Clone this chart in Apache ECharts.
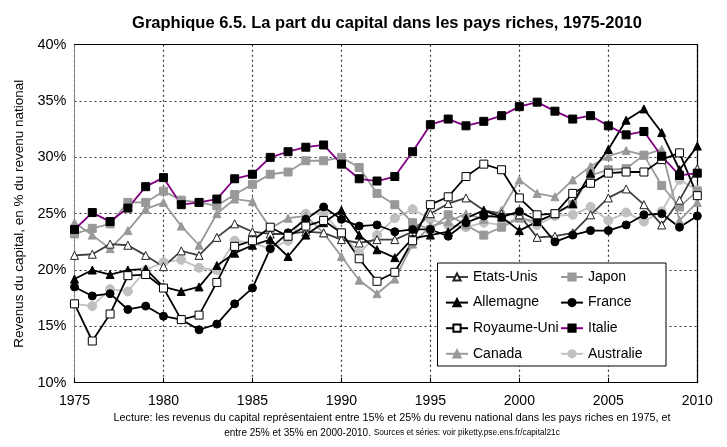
<!DOCTYPE html>
<html>
<head>
<meta charset="utf-8">
<script src="https://cdn.jsdelivr.net/npm/echarts@6/dist/echarts.min.js"></script>
<style>
html,body{margin:0;padding:0;background:#fff;}
#chart{width:727px;height:447px;}
</style>
</head>
<body>
<div id="chart"></div>
<script>
var years = [1975,1976,1977,1978,1979,1980,1981,1982,1983,1984,1985,1986,1987,1988,1989,1990,1991,1992,1993,1994,1995,1996,1997,1998,1999,2000,2001,2002,2003,2004,2005,2006,2007,2008,2009,2010];
var usa = [21.3,21.4,22.3,22.2,21.3,20.3,21.7,21.3,22.9,24.1,23.4,23.2,23.2,23.4,23.3,22.7,22.4,22.7,22.7,23.4,25.0,25.9,26.4,25.3,25.0,24.9,22.9,23.0,23.3,24.9,26.4,27.2,25.8,24.0,26.2,29.0];
var japan = [23.2,23.7,24.1,26.0,26.0,27.0,26.2,26.0,25.7,26.7,27.6,28.5,28.7,29.7,29.7,30.0,29.1,26.8,25.8,24.2,23.6,24.9,24.0,23.1,23.8,24.6,24.3,25.0,25.8,28.4,28.9,29.0,30.2,27.5,25.6,27.0];
var germany = [19.2,20.0,19.6,20.0,20.1,18.5,18.1,18.5,20.4,21.5,22.2,22.7,21.2,23.1,24.2,25.3,23.1,21.8,21.1,22.8,23.1,23.4,24.6,25.3,24.7,23.5,24.3,25.0,25.9,28.6,30.7,33.3,34.3,32.2,28.9,31.0];
var france = [18.5,17.7,17.9,16.5,16.8,15.9,15.6,14.7,15.2,17.0,18.4,21.9,23.3,24.5,25.6,24.5,23.9,24.0,23.4,23.6,23.6,23.0,24.2,24.8,24.7,25.2,24.4,22.5,23.1,23.5,23.5,24.0,24.9,25.0,23.8,24.8];
var uk = [17.0,13.7,16.1,19.5,19.6,18.4,15.6,16.0,18.9,22.1,22.6,23.8,23.0,23.9,24.4,23.3,21.0,19.0,19.8,22.6,25.8,26.5,28.3,29.4,28.9,26.4,24.9,25.0,26.8,27.7,28.6,28.7,28.7,29.8,30.4,26.6];
var italy = [23.6,25.1,24.3,25.5,27.4,28.2,25.8,26.0,26.3,28.1,28.5,30.0,30.5,30.9,31.1,29.4,28.1,27.9,28.3,30.5,32.9,33.4,32.8,33.2,33.7,34.5,34.9,34.1,33.4,33.7,32.8,32.0,32.3,30.1,28.4,28.6];
var canada = [24.2,23.1,21.9,23.5,25.4,26.0,23.9,22.2,25.0,26.3,26.1,23.7,24.6,24.8,23.3,21.2,19.1,17.9,19.2,22.3,23.9,24.3,25.0,24.5,25.3,28.0,26.8,26.5,28.0,29.2,30.1,30.6,30.2,30.7,24.4,26.0];
var australia = [17.0,16.8,18.3,18.1,20.0,20.7,20.9,20.2,20.0,22.6,22.4,21.9,22.6,25.0,25.0,23.3,21.5,23.1,24.6,25.4,24.5,24.0,23.8,24.2,24.0,24.7,24.0,24.8,24.9,25.6,24.4,25.1,24.3,25.2,28.0,27.1];
var xTicks = [1975,1980,1985,1990,1995,2000,2005,2010];

var FONT = "'Liberation Sans',Arial,sans-serif";
function pairs(v){ return years.map(function(y,i){ return [y, v[i]]; }); }
function mk(name, vals, lineColor, sym, fill, border, size){
  return {
    name: name, type: 'line', data: pairs(vals), symbol: sym, symbolSize: size,
    lineStyle: {color: lineColor, width: 1.8},
    itemStyle: {color: fill, borderColor: border, borderWidth: 1},
    emphasis: {disabled: true}, z: 2, animation: false
  };
}
var chart = echarts.init(document.getElementById('chart'), null, {renderer: 'canvas'});
var legendText = {fontFamily: FONT, fontSize: 14, color: '#000', lineHeight: 16};
chart.setOption({
  backgroundColor: '#fff',
  animation: false,
  title: {
    text: 'Graphique 6.5. La part du capital dans les pays riches, 1975-2010',
    left: 382, top: 10, textAlign: 'center',
    textStyle: {fontFamily: FONT, fontWeight: 'bold', fontSize: 16.5, color: '#000'}
  },
  grid: {left: 74.5, right: 29.7, top: 44.7, bottom: 64.3},
  legend: [
    {data: ['Etats-Unis','Allemagne','Royaume-Uni','Canada'], orient: 'vertical', left: 440, top: 264, z: 10,
     itemWidth: 22, itemHeight: 9, itemGap: 9.6, textStyle: legendText, selectedMode: false},
    {data: ['Japon','France','Italie','Australie'], orient: 'vertical', left: 555, top: 264, z: 10,
     itemWidth: 22, itemHeight: 9, itemGap: 9.6, textStyle: legendText, selectedMode: false}
  ],
  xAxis: [
    {type: 'value', min: 1975, max: 2010, interval: 5,
     axisLine: {lineStyle: {color: '#000', width: 1}},
     axisTick: {inside: true, length: 5, lineStyle: {color: '#000'}},
     axisLabel: {fontFamily: FONT, fontSize: 14, color: '#000', margin: 11, formatter: function(v){ return xTicks.indexOf(v) >= 0 ? String(v) : ''; }},
     splitLine: {show: true, lineStyle: {type: [2,3], color: '#333', width: 1.2}}},
    {type: 'value', min: 1975, max: 2010, position: 'top',
     axisLine: {show: true, lineStyle: {color: '#000', width: 1.2}},
     axisTick: {show: false}, axisLabel: {show: false}, splitLine: {show: false}}
  ],
  yAxis: [
    {type: 'value', min: 10, max: 40, interval: 5,
     name: 'Revenus du capital, en % du revenu national', nameLocation: 'middle', nameGap: 48,
     nameTextStyle: {fontFamily: FONT, fontSize: 13.5, color: '#000'},
     axisLine: {show: true, lineStyle: {color: '#888', width: 1}},
     axisTick: {show: false},
     axisLabel: {fontFamily: FONT, fontSize: 14.5, color: '#000', margin: 8, formatter: '{value}%'},
     splitLine: {show: true, lineStyle: {type: [2,3], color: '#333', width: 1.2}}},
    {type: 'value', min: 10, max: 40, position: 'right',
     axisLine: {show: true, lineStyle: {color: '#000', width: 1.2}},
     axisTick: {show: false}, axisLabel: {show: false}, splitLine: {show: false}}
  ],
  graphic: [
    {type: 'rect', left: 437, top: 262.5, shape: {width: 228.5, height: 103}, style: {fill: '#fff', stroke: '#000', lineWidth: 1}, z: 3},
    {type: 'text', x: 392, y: 413, z: 10, style: {
      text: 'Lecture: les revenus du capital représentaient entre 15% et 25% du revenu national dans les pays riches en 1975, et',
      font: "10.8px 'Liberation Sans',Arial,sans-serif", fill: '#000', align: 'center'}},
    {type: 'text', x: 392, y: 428, z: 10, style: {
      rich: {a: {fontFamily: FONT, fontSize: 10, fill: '#000'}, b: {fontFamily: FONT, fontSize: 8.3, fill: '#000'}},
      align: 'center',
      text: '{a|entre 25% et 35% en 2000-2010. }{b|Sources et séries: voir piketty.pse.ens.fr/capital21c}'}}
  ],
  series: [
    mk('Australie', australia, '#c0c0c0', 'circle', '#c0c0c0', '#c0c0c0', 9),
    mk('Canada', canada, '#999999', 'triangle', '#999999', '#999999', 8),
    mk('Japon', japan, '#999999', 'rect', '#999999', '#999999', 8),
    mk('Etats-Unis', usa, '#404040', 'triangle', '#fff', '#222', 8),
    mk('France', france, '#000', 'circle', '#000', '#000', 8),
    mk('Allemagne', germany, '#000', 'triangle', '#000', '#000', 8),
    mk('Royaume-Uni', uk, '#000', 'rect', '#fff', '#000', 8),
    mk('Italie', italy, '#800080', 'rect', '#000', '#000', 8)
  ]
});
</script>
</body>
</html>
